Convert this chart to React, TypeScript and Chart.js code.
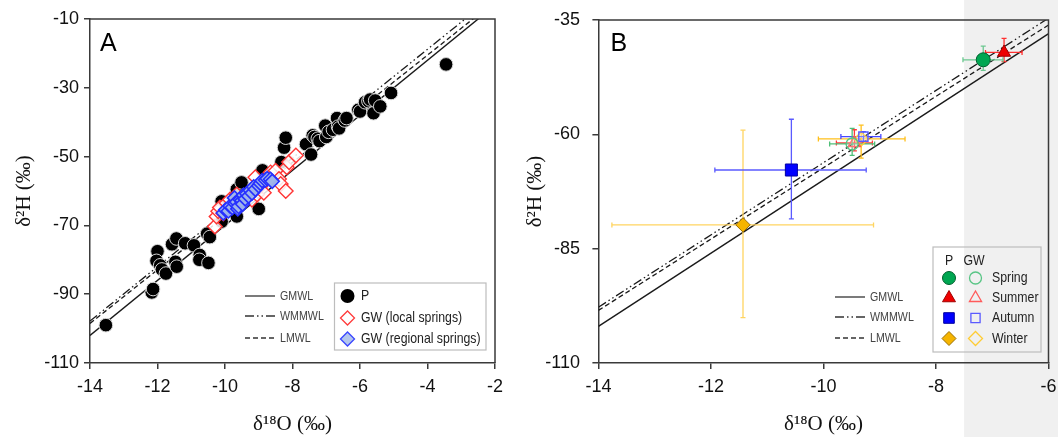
import React, { useEffect, useRef } from 'react';
import { Chart, registerables } from 'chart.js';
import { drawPoint } from 'chart.js/helpers';

Chart.register(...registerables);

// ---------------- Panel A data ----------------
const pX = [-13.53, -12.17, -12.13, -12.0, -12.03, -11.92, -11.87, -11.75, -11.57, -11.44, -11.47, -11.43, -11.18, -10.92, -10.75, -10.76, -10.49, -10.53, -10.45, -10.1, -10.1, -9.65, -9.65, -9.51, -9.0, -8.89, -8.33, -8.25, -8.2, -7.6, -7.45, -7.4, -7.35, -7.25, -7.2, -7.03, -7.0, -6.93, -6.8, -6.68, -6.65, -6.62, -6.45, -6.4, -6.05, -6.0, -5.85, -5.75, -5.7, -5.6, -5.55, -5.4, -5.08, -3.45];
const pY = [-99.0, -89.5, -88.5, -77.5, -80.3, -81.6, -82.8, -84.0, -75.5, -73.8, -80.6, -82.0, -75.2, -75.8, -78.6, -80.0, -80.9, -72.4, -73.4, -63.0, -68.9, -59.5, -67.4, -57.5, -65.2, -54.0, -51.6, -47.4, -44.5, -46.4, -49.4, -43.8, -44.3, -44.8, -45.5, -41.0, -44.3, -42.8, -42.2, -38.8, -41.3, -41.8, -39.5, -38.8, -36.4, -36.9, -34.2, -33.9, -33.4, -37.4, -33.7, -35.4, -31.5, -23.2];

const localX = [-10.3, -10.25, -10.2, -10.15, -10.05, -9.95, -9.85, -9.75, -9.65, -9.5, -9.3, -9.2, -9.1, -9.05, -8.95, -8.85, -8.65, -8.5, -8.4, -8.35, -8.2, -8.17, -8.1, -7.9];
const localY = [-70.3, -67.4, -65.9, -64.8, -66.5, -63.5, -62.5, -63.8, -61.0, -62.3, -61.0, -62.5, -56.0, -61.0, -58.6, -60.5, -54.6, -54.1, -56.5, -58.0, -60.0, -53.1, -51.6, -49.7];

const regionalX = [-10.05, -9.98, -9.9, -9.85, -9.78, -9.72, -9.7, -9.65, -9.62, -9.6, -9.55, -9.5, -9.48, -9.45, -9.4, -9.35, -9.3, -9.25, -9.2, -9.15, -9.1, -9.0, -8.95, -8.9, -8.8, -8.75, -8.65, -8.6];
const regionalY = [-66.4, -65.5, -65.8, -64.4, -64.8, -62.0, -63.6, -63.2, -65.2, -64.5, -62.5, -62.8, -63.8, -61.2, -62.3, -60.8, -61.5, -59.8, -60.6, -58.8, -59.5, -58.5, -57.8, -57.0, -56.8, -56.4, -56.6, -57.2];

// Meteoric water lines (end points)
const mwlX = [-14, -2];
const gmwlY = [-102, -6];
const wmmwlY = [-97.8, -3.0];
const lmwlY = [-98.5, -4.9];

// ---------------- Panel B data ----------------
const seasons = ['Spring', 'Summer', 'Autumn', 'Winter'];
const precX = [-7.16, -6.79, -10.57, -11.43];
const precY = [-43.7, -42.1, -67.8, -79.8];
const precXLo = [-7.52, -7.12, -11.93, -13.76];
const precXHi = [-6.81, -6.47, -9.24, -9.11];
const precYLo = [-46.0, -44.1, -78.5, -100.1];
const precYHi = [-40.7, -39.0, -56.7, -59.1];

const gwX = [-9.49, -9.45, -9.29, -9.33];
const gwY = [-62.1, -61.9, -60.5, -61.0];
const gwXLo = [-9.89, -9.77, -9.69, -10.09];
const gwXHi = [-9.09, -9.13, -8.98, -8.55];
const gwYLo = [-64.6, -63.6, -61.6, -65.2];
const gwYHi = [-58.7, -59.0, -59.4, -58.0];

const shadeFrom = -7.5;

// ---------------- styles ----------------
const SANS = "'Liberation Sans', Arial, Helvetica, sans-serif";
const SERIF = "'Liberation Serif', 'Times New Roman', serif";
const AXIS = '#3a3a3a';

const seasonStyle = ['circle', 'triangle', 'rect', 'rectRot'];
const precFill = ['#00a651', '#ee0000', '#0000ff', '#f5b400'];
const precBorder = ['#00602e', '#a00000', '#0000a0', '#9a6e00'];
const precRadius = [7, 7.5, 8.5, 7.2];
const precErr = ['#6cc790', '#ff3030', '#5a5aff', '#ffd460'];
const gwColor = ['#58c585', '#ff5a5a', '#5a5aff', '#ffcc33'];
const gwRadius = [6, 7, 6.5, 7];
const gwErr = ['#4fbf78', '#ff3a3a', '#4848ff', '#ffbf1a'];

const toPts = (xs: number[], ys: number[]) => xs.map((x, i) => ({ x, y: ys[i] }));

function mwlDatasets() {
  return [
    { label: 'GMWL', data: toPts(mwlX, gmwlY), showLine: true, borderColor: '#1a1a1a', borderWidth: 1.4, pointRadius: 0, order: 5 },
    { label: 'WMMWL', data: toPts(mwlX, wmmwlY), showLine: true, borderColor: '#1a1a1a', borderWidth: 1.3, borderDash: [9, 3, 1.5, 3, 1.5, 3], pointRadius: 0, order: 5 },
    { label: 'LMWL', data: toPts(mwlX, lmwlY), showLine: true, borderColor: '#1a1a1a', borderWidth: 1.3, borderDash: [5, 3], pointRadius: 0, order: 5 },
  ];
}

function errBar(pts: { x: number; y: number }[], color: string, rot: number) {
  return {
    data: pts, showLine: true, borderColor: color, borderWidth: 1.3,
    pointStyle: 'line', pointRadius: 2.5, pointRotation: rot,
    pointBorderColor: color, pointBorderWidth: 1.3, pointBackgroundColor: color, order: 3,
  };
}

function scaleCfg(xMin: number, xMax: number, xStep: number, yMin: number, yMax: number, yStep: number, yWidth: number, xHeight: number, yTitlePad: number, yTickPad: number, yLineHeight: number) {
  const grid = { drawOnChartArea: false, drawTicks: true, tickLength: 6, color: AXIS, lineWidth: 1.5 };
  const border = { display: true, color: AXIS, width: 1.5 };
  return {
    x: {
      type: 'linear', min: xMin, max: xMax, position: 'bottom', grid, border,
      ticks: { stepSize: xStep, color: '#111', font: { family: SANS, size: 18, lineHeight: 2.05 }, padding: 0 },
      title: { display: true, text: 'δ¹⁸O (‰)', color: '#111', font: { family: SERIF, size: 21 }, padding: { top: 0, bottom: 0 } },
      afterFit: (s: any) => { s.height = xHeight; },
    },
    y: {
      type: 'linear', min: yMin, max: yMax, position: 'left', grid, border,
      ticks: { stepSize: yStep, color: '#111', font: { family: SANS, size: 18, lineHeight: yLineHeight }, padding: yTickPad },
      title: { display: true, text: 'δ²H (‰)', color: '#111', font: { family: SERIF, size: 21 }, padding: { top: yTitlePad, bottom: 0 } },
      afterFit: (s: any) => { s.width = yWidth; },
    },
  };
}

const framePlugin = {
  id: 'frame',
  afterDraw(chart: any) {
    const { ctx, chartArea: a } = chart;
    ctx.save();
    ctx.strokeStyle = AXIS;
    ctx.lineWidth = 1.5;
    ctx.beginPath();
    ctx.moveTo(a.left, a.top);
    ctx.lineTo(a.right, a.top);
    ctx.lineTo(a.right, a.bottom);
    ctx.stroke();
    ctx.restore();
  },
};

// text drawn slightly condensed, like the narrow typeface of the original
function text(ctx: CanvasRenderingContext2D, s: string, x: number, y: number, size: number, color: string, align: CanvasTextAlign = 'left', sx = 0.82) {
  ctx.save();
  ctx.translate(x, y);
  ctx.scale(sx, 1);
  ctx.font = `${size}px ${SANS}`;
  ctx.fillStyle = color;
  ctx.textAlign = align;
  ctx.textBaseline = 'middle';
  ctx.fillText(s, 0, 0);
  ctx.restore();
}

function drawLineLegend(ctx: CanvasRenderingContext2D, x0: number, x1: number, tx: number, ys: number[]) {
  const names = ['GMWL', 'WMMWL', 'LMWL'];
  const dashes = [[], [9, 3, 1.5, 3, 1.5, 3], [5, 3]];
  names.forEach((n, i) => {
    ctx.save();
    ctx.strokeStyle = '#333';
    ctx.lineWidth = 1.3;
    ctx.setLineDash(dashes[i]);
    ctx.beginPath();
    ctx.moveTo(x0, ys[i]);
    ctx.lineTo(x1, ys[i]);
    ctx.stroke();
    ctx.restore();
    text(ctx, n, tx, ys[i] + 0.5, 13, '#444');
  });
}

function marker(ctx: CanvasRenderingContext2D, style: string, r: number, x: number, y: number, fill: string, stroke: string, bw: number) {
  ctx.save();
  ctx.fillStyle = fill;
  ctx.strokeStyle = stroke;
  ctx.lineWidth = bw;
  drawPoint(ctx, { pointStyle: style, radius: r, rotation: 0, borderWidth: bw } as any, x, y);
  ctx.restore();
}

const legendA = {
  id: 'legendA',
  afterDraw(chart: any) {
    const ctx = chart.ctx as CanvasRenderingContext2D;
    drawLineLegend(ctx, 245, 275, 280, [296, 316, 338]);
    ctx.save();
    ctx.strokeStyle = '#bdbdbd';
    ctx.lineWidth = 1.2;
    ctx.strokeRect(334.5, 283, 151.5, 67);
    ctx.restore();
    marker(ctx, 'circle', 7, 347.5, 296, '#000', '#000', 0);
    marker(ctx, 'rectRot', 7, 347.5, 318, '#fff', '#ff3b3b', 1.3);
    marker(ctx, 'rectRot', 7, 347.5, 339, '#b3c6ec', '#3a46ff', 1.3);
    text(ctx, 'P', 361, 296, 15, '#222');
    text(ctx, 'GW (local springs)', 361, 318, 15, '#222');
    text(ctx, 'GW (regional springs)', 361, 339, 15, '#222');
    ctx.save();
    ctx.font = `25px ${SANS}`;
    ctx.textBaseline = 'alphabetic';
    ctx.fillStyle = '#000';
    ctx.fillText('A', 100, 51);
    ctx.restore();
  },
};

const shadePlugin = {
  id: 'shade',
  beforeDraw(chart: any) {
    const { ctx } = chart;
    const x0 = chart.scales.x.getPixelForValue(shadeFrom);
    ctx.save();
    ctx.fillStyle = '#f0f0f0';
    ctx.fillRect(x0, 0, chart.width - x0, chart.height);
    ctx.restore();
  },
};

const legendB = {
  id: 'legendB',
  afterDraw(chart: any) {
    const ctx = chart.ctx as CanvasRenderingContext2D;
    drawLineLegend(ctx, 325, 355, 360, [297, 317, 338]);
    ctx.save();
    ctx.strokeStyle = '#bdbdbd';
    ctx.lineWidth = 1.2;
    ctx.strokeRect(423, 247, 108, 105);
    ctx.restore();
    text(ctx, 'P', 439, 260.5, 15, '#222', 'center');
    text(ctx, 'GW', 464, 260.5, 15, '#222', 'center');
    const rows = [278, 298, 318, 338.5];
    seasons.forEach((s, i) => {
      marker(ctx, seasonStyle[i], [6.5, 7.5, 7.5, 7][i], 439, rows[i], precFill[i], precBorder[i], 1);
      marker(ctx, seasonStyle[i], [6, 7, 6.5, 7][i], 465.5, rows[i], 'rgba(255,255,255,0)', gwColor[i], 1.3);
      text(ctx, s, 482, rows[i], 15, '#222');
    });
    ctx.save();
    ctx.font = `25px ${SANS}`;
    ctx.fillStyle = '#000';
    ctx.textBaseline = 'alphabetic';
    ctx.fillText('B', 100.5, 50.5);
    ctx.restore();
  },
};

function configA(): any {
  return {
    type: 'scatter',
    data: {
      datasets: [
        { label: 'GW (regional springs)', data: toPts(regionalX, regionalY), pointStyle: 'rectRot', pointRadius: 7, pointBackgroundColor: 'rgba(160,182,234,0.95)', pointBorderColor: '#2630ff', pointBorderWidth: 1.6, order: 0 },
        { label: 'GW (local springs)', data: toPts(localX, localY), pointStyle: 'rectRot', pointRadius: 7.3, pointBackgroundColor: 'rgba(255,255,255,0.85)', pointBorderColor: '#ff3434', pointBorderWidth: 1.4, order: 1 },
        { label: 'P', data: toPts(pX, pY), pointStyle: 'circle', pointRadius: 6.8, pointBackgroundColor: '#000', pointBorderColor: 'rgba(215,215,215,1)', pointBorderWidth: 1, order: 2 },
        ...mwlDatasets(),
      ],
    },
    options: {
      responsive: false, animation: false, devicePixelRatio: 1, events: [],
      layout: { padding: { top: 19, right: 15, left: 0, bottom: 0 } },
      plugins: { legend: { display: false }, tooltip: { enabled: false } },
      scales: scaleCfg(-14, -2, 2, -110, -10, 20, 90, 74, 12, 5, 1.2),
    },
    plugins: [framePlugin, legendA],
  };
}

function configB(): any {
  const errs: any[] = [];
  seasons.forEach((_, i) => {
    errs.push(errBar([{ x: precXLo[i], y: precY[i] }, { x: precXHi[i], y: precY[i] }], precErr[i], 90));
    errs.push(errBar([{ x: precX[i], y: precYLo[i] }, { x: precX[i], y: precYHi[i] }], precErr[i], 0));
    errs.push(errBar([{ x: gwXLo[i], y: gwY[i] }, { x: gwXHi[i], y: gwY[i] }], gwErr[i], 90));
    errs.push(errBar([{ x: gwX[i], y: gwYLo[i] }, { x: gwX[i], y: gwYHi[i] }], gwErr[i], 0));
  });
  const precSets = seasons.map((s, i) => ({
    label: 'P ' + s, data: [{ x: precX[i], y: precY[i] }], pointStyle: seasonStyle[i], pointRadius: precRadius[i],
    pointBackgroundColor: precFill[i], pointBorderColor: precBorder[i], pointBorderWidth: 1, order: 0,
  }));
  const gwSets = seasons.map((s, i) => ({
    label: 'GW ' + s, data: [{ x: gwX[i], y: gwY[i] }], pointStyle: seasonStyle[i], pointRadius: gwRadius[i],
    pointBackgroundColor: 'rgba(255,255,255,0.15)', pointBorderColor: gwColor[i], pointBorderWidth: 1.4, order: 1,
  }));
  return {
    type: 'scatter',
    data: { datasets: [...precSets, ...gwSets, ...errs, ...mwlDatasets()] },
    options: {
      responsive: false, animation: false, devicePixelRatio: 1, events: [],
      layout: { padding: { top: 20, right: 8.4, left: 0, bottom: 0 } },
      plugins: { legend: { display: false }, tooltip: { enabled: false } },
      scales: scaleCfg(-14, -6, 2, -110, -35, 25, 88.4, 74, 13, 12.5, 0.8),
    },
    plugins: [shadePlugin, framePlugin, legendB],
  };
}

function ChartCanvas({ make, left, width }: { make: () => any; left: number; width: number }) {
  const ref = useRef<HTMLCanvasElement>(null);
  useEffect(() => {
    const chart = new Chart(ref.current as HTMLCanvasElement, make());
    return () => chart.destroy();
  }, []);
  return (
    <canvas
      ref={ref}
      width={width}
      height={437}
      style={{ position: 'absolute', left, top: 0, width, height: 437 }}
    />
  );
}

export default function App() {
  return (
    <div style={{ position: 'fixed', left: 0, top: 0, width: 1058, height: 437, background: '#fff', overflow: 'hidden' }}>
      <ChartCanvas make={configA} left={0} width={510} />
      <ChartCanvas make={configB} left={510} width={548} />
    </div>
  );
}
